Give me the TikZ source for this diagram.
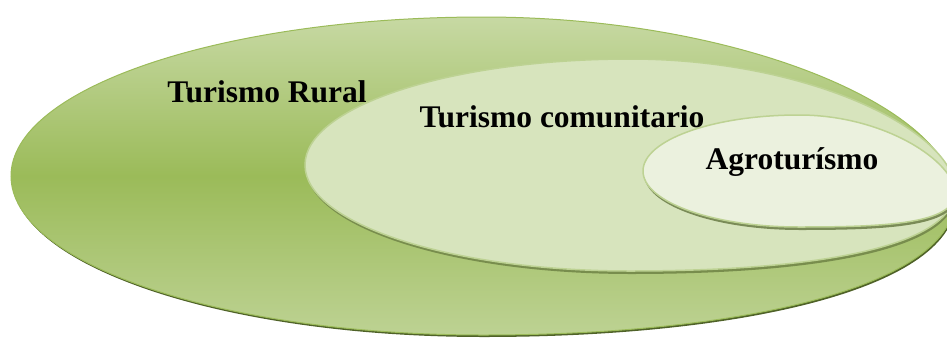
\documentclass[tikz,border=0pt]{standalone}
\usepackage{fontspec}
\setmainfont{Liberation Serif}
\usetikzlibrary{positioning}

\definecolor{olivedark}{HTML}{9BBB59}
\definecolor{olivemid}{HTML}{BDD293}
\definecolor{olivelight}{HTML}{D7E4BD}
\definecolor{olivepale}{HTML}{EBF1DE}
\definecolor{oliveedge}{HTML}{76923C}
\definecolor{oliveshadow}{HTML}{4F6228}

% oval whose right tip hangs a little lower: style, cx, cy, rx, ry, drop
\newcommand{\droopoval}[6]{%
  \path[#1] ({#2-#4},{#3})
    .. controls ({#2-#4},{#3-0.5523*#5}) and ({#2-0.5523*#4},{#3-#5}) .. ({#2},{#3-#5})
    .. controls ({#2+0.5523*#4},{#3-#5}) and ({#2+#4},{#3+#6-0.5523*#5}) .. ({#2+#4},{#3+#6})
    .. controls ({#2+#4},{#3+#6+0.5523*#5}) and ({#2+0.5523*#4},{#3+#5}) .. ({#2},{#3+#5})
    .. controls ({#2-0.5523*#4},{#3+#5}) and ({#2-#4},{#3+0.5523*#5}) .. cycle;}

\begin{document}
\begin{tikzpicture}[
    x=1pt, y=-1pt,
    ovalshadow/.style={fill=oliveshadow},
    outeroval/.style={
        draw=olivedark, line width=1pt,
        top color=olivemid!85, bottom color=olivemid, middle color=olivedark
    },
    midoval/.style={draw=olivemid, line width=1.5pt, fill=olivelight},
    inneroval/.style={draw=olivemid, line width=1.5pt, fill=olivepale},
    label/.style={
        font=\fontsize{31.5}{36}\selectfont\bfseries,
        text=black
    }
]
\useasboundingbox (0,0) rectangle (947,338);

% outer oval
\droopoval{ovalshadow}{484}{178}{472}{159}{22}
\droopoval{outeroval}{483}{176}{472}{159}{22}

% middle oval
\droopoval{ovalshadow, fill=oliveedge!75!gray}{631}{168}{325}{106}{25}
\droopoval{midoval}{630}{165}{325}{106}{25}

% inner oval
\droopoval{ovalshadow, fill=oliveedge!60!gray}{800}{174}{156}{56}{22}
\droopoval{inneroval}{799}{171}{156}{56}{22}

% labels
\node[label] (ruraltext) at (267,92) {Turismo Rural};
\node[label] (comutext) at (562,117) {Turismo comunitario};
\node[label] (agrotext) at (792,162) {Agroturísmo};

\end{tikzpicture}
\end{document}
